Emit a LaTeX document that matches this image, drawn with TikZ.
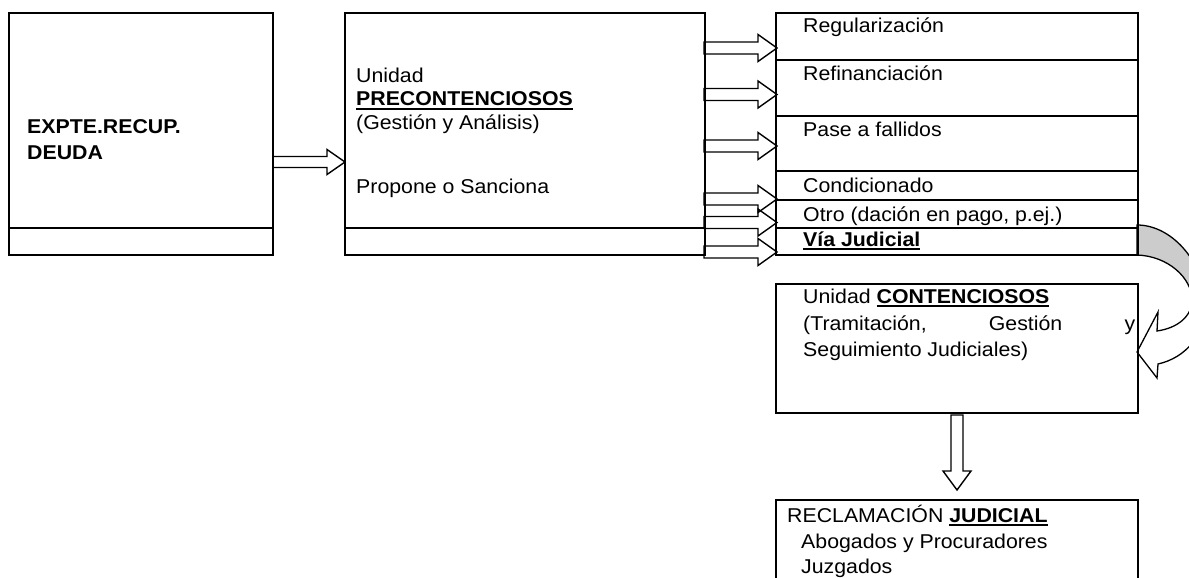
\documentclass[tikz,border=0pt]{standalone}
\usepackage{fontspec}
\setmainfont[FakeStretch=1.065]{Liberation Sans}
\usetikzlibrary{calc}
\newcommand\uln[1]{\setbox0\hbox{#1}\rlap{\rule[-3.8pt]{\wd0}{1.8pt}}\box0}
\newcommand\harr[6]{\draw[barrow] (#1,#4-#5) -- (#2,#4-#5) -- (#2,#4-#6) -- (#3,#4) -- (#2,#4+#6) -- (#2,#4+#5) -- (#1,#4+#5) -- cycle;}
\begin{document}
\begin{tikzpicture}[x=1pt,y=-1pt,
  boxn/.style={draw,line width=2pt,anchor=north west,inner sep=0pt,outer sep=0pt},
  barrow/.style={draw,line width=1.4pt,line join=miter},
  txt/.style={anchor=base west,inner sep=0pt,font=\fontsize{20}{24}\selectfont},
  curvearrow/.style={draw,line width=1.3pt,line join=miter}]
\useasboundingbox (0,0) rectangle (1189,578);
\fill[white] (0,0) rectangle (1189,578);
\clip (0,0) rectangle (1189,578);
% curved arrow (drawn first)
\def\band{(1137,225) .. controls (1172,225) and (1203,262) .. (1205,300)
  .. controls (1207,335) and (1185,358) .. (1158,364) -- (1157,378) -- (1137,352)
  -- (1158,312) -- (1157,331) .. controls (1178,328) and (1192,316) .. (1192,300)
  .. controls (1192,278) and (1168,256) .. (1137,255) -- cycle}
\begin{scope}
  \clip (1100,200) rectangle (1189,300);
  \fill[gray!40] \band;
\end{scope}
\draw[curvearrow] \band;
% boxes
\node[boxn,minimum width=264pt,minimum height=242pt] (b1) at (9,13) {};
\node[boxn,minimum width=264pt,minimum height=27pt] (b1f) at (9,228) {};
\node[boxn,minimum width=360pt,minimum height=242pt] (b2) at (345,13) {};
\node[boxn,minimum width=360pt,minimum height=27pt] (b2f) at (345,228) {};
\node[boxn,minimum width=362pt,minimum height=47.5pt] (r1) at (776,13) {};
\node[boxn,minimum width=362pt,minimum height=55pt] (r2) at (776,60.5) {};
\node[boxn,minimum width=362pt,minimum height=55.5pt] (r3) at (776,115.5) {};
\node[boxn,minimum width=362pt,minimum height=29pt] (r4) at (776,171) {};
\node[boxn,minimum width=362pt,minimum height=28pt] (r5) at (776,200) {};
\node[boxn,minimum width=362pt,minimum height=27pt] (r6) at (776,228) {};
\node[boxn,minimum width=362pt,minimum height=129pt] (cont) at (776,284) {};
\node[boxn,minimum width=362pt,minimum height=120pt] (recl) at (776,500) {};
% texts
\node[txt] (t1a) at (27,133) {\textbf{EXPTE.RECUP.}};
\node[txt] (t1b) at (27,159) {\textbf{DEUDA}};
\node[txt] (t2a) at (356,82) {Unidad};
\node[txt] (t2b) at (356,106) {\uln{\textbf{PRECONTENCIOSOS}}};
\node[txt] (t2c) at (356,129) {(Gestión y Análisis)};
\node[txt] (t2d) at (356,193) {Propone o Sanciona};
\node[txt] (tr1) at (803,33) {Regularización};
\node[txt] (tr2) at (803,81) {Refinanciación};
\node[txt] (tr3) at (803,136) {Pase a fallidos};
\node[txt] (tr4) at (803,192) {Condicionado};
\node[txt] (tr5) at (803,221) {Otro (dación en pago, p.ej.)};
\node[txt] (tr6) at (803,246) {\uln{\textbf{Vía Judicial}}};
\node[txt] (tc1) at (803,303) {Unidad \uln{\textbf{CONTENCIOSOS}}};
\node[txt] (tc2) at (803,330) {\hbox to 332pt{(Tramitación,\hfill Gestión\hfill y}};
\node[txt] (tc3) at (803,356) {Seguimiento Judiciales)};
\node[txt] (tj1) at (787,522) {RECLAMACIÓN \uln{\textbf{JUDICIAL}}};
\node[txt] (tj2) at (801,548) {Abogados y Procuradores};
\node[txt] (tj3) at (801,573) {Juzgados};
% block arrows
\harr{273}{327}{345}{162}{5.5}{12.5}
\harr{704}{758}{777}{48}{6}{13.5}
\harr{704}{758}{777}{94.5}{6}{13.5}
\harr{704}{758}{777}{146}{6}{13.5}
\harr{704}{758}{777}{199}{6}{13.5}
\harr{704}{758}{777}{222.5}{6}{13.5}
\harr{704}{758}{777}{252}{6}{13.5}
\draw[barrow] (951,415) -- (951,471) -- (943,471) -- (957,490) -- (971,471) -- (963,471) -- (963,415) -- cycle;
\end{tikzpicture}
\end{document}
